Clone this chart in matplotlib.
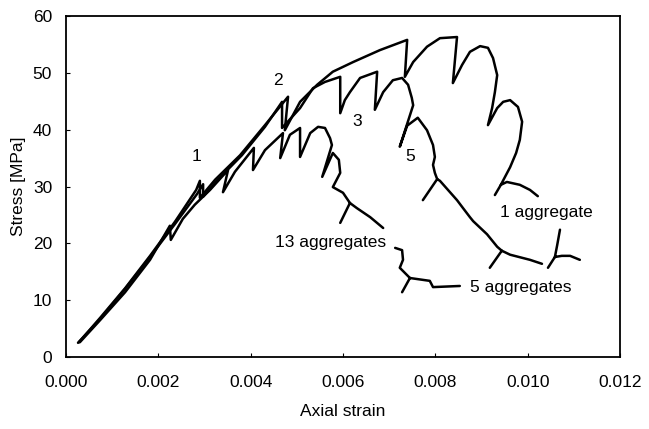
import numpy as np
import matplotlib
matplotlib.use("Agg")
import matplotlib.pyplot as plt

plt.rcParams['font.family'] = ['Liberation Sans', 'DejaVu Sans']

nan = np.nan

# 1 aggregate (strain, stress [MPa]); NaN separates drawn pieces
strain_1 = [0.00028, 0.00074, 0.00128, 0.00182, 0.00236, 0.00282, 0.00290, 0.00290,
            0.00323, 0.00377, 0.00431, 0.00481, 0.00474, 0.00507, 0.00544, 0.00578,
            0.00622, 0.00680, 0.00739, 0.00734, 0.00752, 0.00782, 0.00810, 0.00847,
            0.00838, 0.00858, 0.00875, 0.00897, 0.00914, 0.00925, 0.00934, 0.00929,
            0.00923, 0.00914, 0.00934, 0.00947, 0.00962, 0.00979, 0.00988, 0.00983,
            0.00975, 0.00962, 0.00951, 0.00942, 0.00929, nan,
            0.00942, 0.00955, 0.00983, 0.01005, 0.01022, nan,
            0.01070, 0.01064, 0.01059, 0.01044, nan,
            0.01059, 0.01074, 0.01092, 0.01113]
stress_1 = [2.6, 6.9, 12.1, 17.8, 23.8, 29.4, 31.0, 28.0,
            31.2, 35.5, 40.8, 45.8, 39.9, 44.9, 47.9, 50.2,
            51.9, 54.0, 55.8, 49.3, 51.9, 54.6, 56.1, 56.3,
            48.2, 51.4, 53.7, 54.7, 54.4, 52.6, 49.6, 46.6,
            43.8, 40.8, 43.8, 44.9, 45.2, 44.0, 41.4, 38.2,
            35.9, 33.4, 31.7, 30.3, 28.5, nan,
            30.3, 30.8, 30.3, 29.4, 28.3, nan,
            22.4, 19.7, 17.6, 15.7, nan,
            17.6, 17.8, 17.8, 17.1]

# 5 aggregates
strain_5 = [0.00026, 0.00074, 0.00128, 0.00182, 0.00236, 0.00284, 0.00297, 0.00297,
            0.00329, 0.00381, 0.00431, 0.00468, 0.00468, 0.00507, 0.00535, 0.00561,
            0.00594, 0.00594, 0.00604, 0.00615, 0.00637, 0.00674, 0.00669, 0.00687,
            0.00708, 0.00728, 0.00741, 0.00749, 0.00752, 0.00723, 0.00739, 0.00762,
            0.00782, 0.00795, 0.00799, 0.00795, 0.00799, 0.00804, 0.00773, nan,
            0.00804, 0.00810, 0.00847, 0.00860, 0.00875, 0.00882, 0.00912, 0.00934,
            0.00944, 0.00918, nan,
            0.00944, 0.00962, 0.01005, 0.01031]
stress_5 = [2.5, 6.7, 12.0, 17.6, 23.4, 28.7, 30.4, 28.2,
            31.2, 35.5, 40.5, 44.9, 40.3, 43.8, 47.3, 48.4,
            49.3, 42.9, 45.2, 46.6, 49.1, 50.2, 43.5, 46.6,
            48.7, 49.1, 47.9, 45.6, 44.3, 37.0, 40.7, 42.1,
            39.9, 37.3, 35.2, 33.8, 32.4, 31.3, 27.6, nan,
            31.3, 31.0, 27.6, 26.2, 24.6, 23.9, 21.6, 19.4,
            18.7, 15.7, nan,
            18.7, 18.0, 17.1, 16.4]

# 13 aggregates
strain_13 = [0.00030, 0.00074, 0.00128, 0.00182, 0.00225, 0.00227, 0.00253, 0.00279,
             0.00312, 0.00351, 0.00340, 0.00366, 0.00407, 0.00405, 0.00431, 0.00457,
             0.00470, 0.00464, 0.00485, 0.00507, 0.00507, 0.00529, 0.00546, 0.00561,
             0.00572, 0.00576, 0.00555, 0.00578, 0.00591, 0.00594, 0.00578, 0.00600,
             0.00615, 0.00594, nan,
             0.00615, 0.00630, 0.00659, 0.00687, nan,
             0.00713, 0.00728, 0.00730, 0.00723, 0.00745, 0.00728, nan,
             0.00745, 0.00788, 0.00795, 0.00853]
stress_13 = [2.6, 6.5, 11.4, 17.1, 23.1, 20.6, 24.3, 26.8,
             29.4, 32.9, 29.0, 32.6, 36.8, 32.9, 36.4, 38.4,
             39.4, 35.0, 39.1, 40.3, 35.2, 39.4, 40.5, 40.3,
             38.5, 37.3, 31.7, 35.9, 34.7, 32.4, 29.9, 28.9,
             27.1, 23.6, nan,
             27.1, 26.2, 24.6, 22.7, nan,
             19.2, 18.8, 17.1, 15.7, 13.9, 11.4, nan,
             13.9, 13.4, 12.3, 12.5]

x_ticks = [0.000, 0.002, 0.004, 0.006, 0.008, 0.010, 0.012]
y_ticks = [0, 10, 20, 30, 40, 50, 60]

# annotation texts (label, strain, stress)
point_labels = [("1", 0.00282, 35.2), ("2", 0.00459, 48.7),
                ("3", 0.00630, 41.4), ("5", 0.00745, 35.2)]
curve_labels = [("1 aggregate", 0.00940, 25.5), ("13 aggregates", 0.00453, 20.1),
                ("5 aggregates", 0.00875, 12.3)]

FS = 12.5

fig = plt.figure(figsize=(6.49, 4.29), dpi=100)
ax = fig.add_axes([0.1017, 0.1678, 0.8536, 0.7949])

for sx, sy in [(strain_13, stress_13), (strain_5, stress_5), (strain_1, stress_1)]:
    ax.plot(sx, sy, color='black', lw=1.8, solid_joinstyle='round', solid_capstyle='round')

for t, x, y in point_labels:
    ax.text(x, y, t, fontsize=FS, ha='center', va='center')
for t, x, y in curve_labels:
    ax.text(x, y, t, fontsize=FS, ha='left', va='center')

ax.set_xlim(0, 0.012)
ax.set_ylim(0, 60)
ax.set_xticks(x_ticks)
ax.set_xticklabels([f"{v:.3f}" for v in x_ticks])
ax.set_yticks(y_ticks)
ax.tick_params(direction='in', length=3, width=0.8, labelsize=FS)
ax.tick_params(axis='x', pad=13)
ax.tick_params(axis='y', pad=10)
for s in ax.spines.values():
    s.set_linewidth(1.3)
ax.set_xlabel("Axial strain", fontsize=FS, labelpad=10)
ax.set_ylabel("Stress [MPa]", fontsize=FS, labelpad=5)

fig.savefig("out.png", dpi=100)
